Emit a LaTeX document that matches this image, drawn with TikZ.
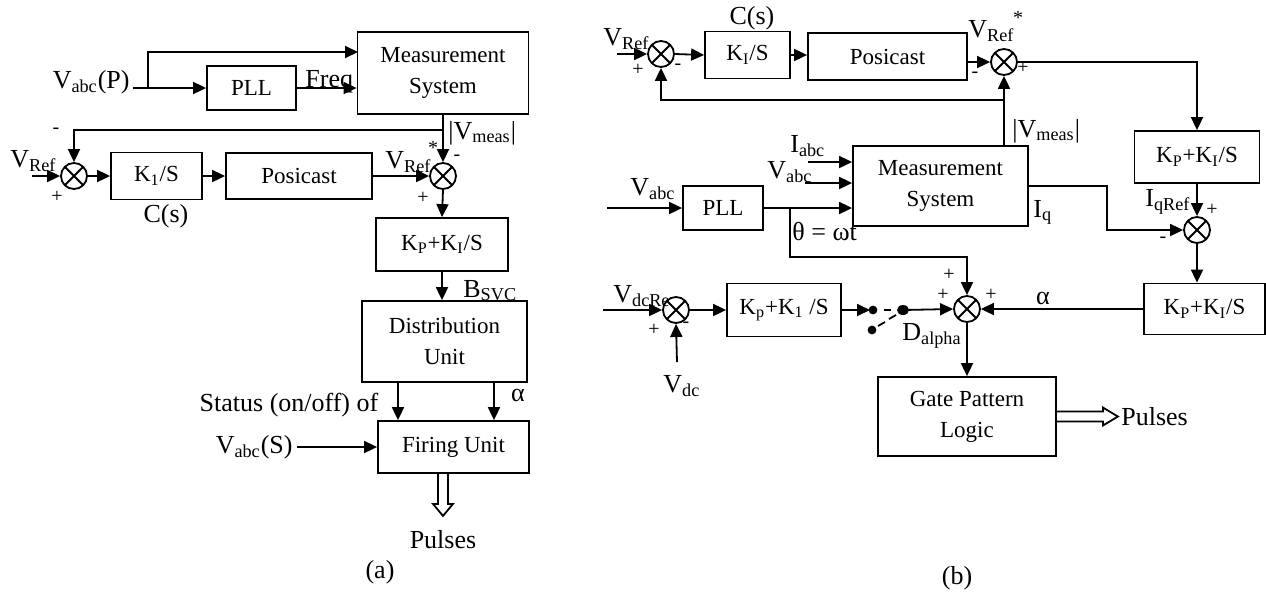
\documentclass[tikz,border=0pt]{standalone}
\usepackage{fontspec}
\setmainfont{Liberation Serif}
\usetikzlibrary{arrows.meta,calc}
\begin{document}
\begin{tikzpicture}[x=0.5pt,y=-0.5pt,
  blk/.style={draw,line width=0.9pt,inner sep=0pt,align=center,font=\fontsize{11.5}{15.5}\selectfont},
  sumj/.style={draw,circle,line width=0.9pt,minimum size=13pt,inner sep=0pt,
    path picture={\draw[line width=0.9pt] (path picture bounding box.north west) -- (path picture bounding box.south east)
      (path picture bounding box.north east) -- (path picture bounding box.south west);}},
  sig/.style={line width=0.9pt,-{Triangle[length=6.5pt,width=6pt]}},
  wire/.style={line width=0.9pt},
  lbl/.style={font=\fontsize{13}{15}\selectfont,inner sep=0pt},
  sgn/.style={font=\fontsize{10}{12}\selectfont,inner sep=0pt}]
\useasboundingbox (0,0) rectangle (1266,591);

% ---------- (a) ----------
\node[blk,minimum width=44.5pt,minimum height=22pt] (pllA) at (251.5,88) {PLL};
\node[blk,minimum width=85.5pt,minimum height=41pt] (measA) at (443,73) {Measurement\\System};
\node[blk,minimum width=45.5pt,minimum height=23.5pt] (kiA) at (156.5,176) {K\textsubscript{1}/S};
\node[blk,minimum width=73pt,minimum height=23pt] (posA) at (299,176) {Posicast};
\node[blk,minimum width=66pt,minimum height=26.5pt] (kpA) at (442,244.5) {K\textsubscript{P}+K\textsubscript{I}/S};
\node[blk,minimum width=82.5pt,minimum height=40.5pt] (distA) at (444.5,341.5) {Distribution\\Unit};
\node[blk,minimum width=75.5pt,minimum height=26pt] (fireA) at (453.5,447) {Firing Unit};
\node[sumj] (sum1A) at (74,176) {};
\node[sumj] (sum2A) at (443,176) {};

\coordinate (inA) at (133,88);
\coordinate (brA) at (148,88);
\coordinate (mA1) at (358,52);
\coordinate (fbA) at (443,130);
\coordinate (vrefA) at (32,176);
\coordinate (stA) at (398,0);
\coordinate (alA) at (494,0);
\coordinate (pulA) at (443,0);

\draw[sig] (inA) -- (pllA.west);
\draw[sig] (brA) |- (mA1);
\draw[sig] (pllA.east) -- (measA.west |- pllA.east);
\draw[sig] (measA.south) -- (sum2A.north);
\draw[sig] (fbA) -| (sum1A.north);
\draw[sig] (vrefA) -- (sum1A.west);
\draw[sig] (sum1A.east) -- (kiA.west);
\draw[sig] (kiA.east) -- (posA.west);
\draw[sig] (posA.east) -- (sum2A.west);
\draw[sig] (sum2A.south) -- (kpA.north);
\draw[sig] (kpA.south) -- (distA.north -| kpA.south);
\draw[sig] (distA.south -| stA) -- (fireA.north -| stA);
\draw[sig] (distA.south -| alA) -- (fireA.north -| alA);
\draw[wire] (fireA.south -| pulA) ++(-5,0) -- ++(0,30) -- ++(-5,0) -- ++(10,12) -- ++(10,-12) -- ++(-5,0) -- ++(0,-30);

\node[lbl,anchor=base east] (vabcP) at (130,88) {V\textsubscript{abc}(P)};
\node[lbl,anchor=base west] (freqA) at (305,87) {Freq};
\node[sgn] (mnA1) at (56,131) {-};
\node[lbl,anchor=base west] (vrefAl) at (10,167) {V\textsubscript{Ref}};
\node[sgn] (plA1) at (57,197) {+};
\node[lbl] (csA) at (166,216) {C(s)};
\node[lbl,anchor=base west] (vrefsA) at (385,168) {V\textsubscript{Ref}};
\node[sgn] (starA) at (433,148) {*};
\node[sgn] (mnA2) at (457,158) {-};
\node[sgn] (plA2) at (423,198) {+};
\node[lbl,anchor=base west] (vmeasA) at (448,139) {|V\textsubscript{meas}|};
\node[lbl,anchor=base west] (bsvcA) at (463,297) {B\textsubscript{SVC}};
\node[lbl] (alphaA) at (518,395) {α};
\node[lbl] (statA) at (289,405) {Status (on/off) of};
\node[lbl,anchor=east] (vabcS) at (293,447) {V\textsubscript{abc}(S)};
\draw[sig,shorten <=2pt] (vabcS.east) -- (fireA.west);
\node[lbl] (pulsA) at (443,540) {Pulses};
\node[lbl] (capA) at (380,572) {(a)};

% ---------- (b) ----------
\node[blk,minimum width=42.5pt,minimum height=23.5pt] (kiB) at (747.5,55) {K\textsubscript{I}/S};
\node[blk,minimum width=79.5pt,minimum height=23.5pt] (posB) at (887.5,56.5) {Posicast};
\node[blk,minimum width=87.5pt,minimum height=40pt] (measB) at (940.5,186) {Measurement\\System};
\node[blk,minimum width=40pt,minimum height=22pt] (pllB) at (723,208) {PLL};
\node[blk,minimum width=62.5pt,minimum height=26pt] (kp1B) at (1197,157) {K\textsubscript{P}+K\textsubscript{I}/S};
\node[blk,minimum width=60.5pt,minimum height=25.5pt] (kp2B) at (1204.5,309) {K\textsubscript{P}+K\textsubscript{I}/S};
\node[blk,minimum width=57pt,minimum height=26.5pt] (kdcB) at (784,310) {K\textsubscript{p}+K\textsubscript{1} /S};
\node[blk,minimum width=89pt,minimum height=39.5pt] (gateB) at (967,416.5) {Gate Pattern\\Logic};
\node[sumj] (s1B) at (661,54) {};
\node[sumj] (s2B) at (1004,62) {};
\node[sumj] (s3B) at (1197,230) {};
\node[sumj] (s4B) at (967,309) {};
\node[sumj] (s5B) at (676,310) {};

\coordinate (vrefB) at (617,54);
\coordinate (fbB) at (1004,100);
\coordinate (iqB) at (1107,230);
\coordinate (vabcB) at (607,208);
\coordinate (thB) at (790,208);
\coordinate (thB2) at (790,257);
\coordinate (iabcB) at (808,162);
\coordinate (vabcB2) at (805,183);
\coordinate (vdcrB) at (603,310);
\coordinate (vdcB) at (677,362);
\coordinate (swL) at (873,310);
\coordinate (swR) at (903,310);
\coordinate (swD) at (872,330);

\draw[sig] (vrefB) -- (s1B.west);
\draw[sig] (s1B.east) -- (kiB.west);
\draw[sig] (kiB.east) -- (posB.west |- kiB.east);
\draw[sig] (posB.east |- s2B.west) -- (s2B.west);
\draw[sig] (measB.north -| s2B) -- (s2B.south);
\draw[sig] (fbB) -| (s1B.south);
\draw[sig] (s2B.east) -| (kp1B.north);
\draw[sig] (kp1B.south) -- (s3B.north);
\draw[sig] (measB.east) -| (iqB) -- (s3B.west);
\draw[sig] (s3B.south) -- (s3B.south |- kp2B.north);
\draw[sig] (kp2B.west) -- (s4B.east);
\draw[sig] (vabcB) -- (pllB.west);
\draw[sig] (pllB.east) -- (measB.west |- pllB.east);
\draw[sig] (thB) -- (thB2) -| (s4B.north);
\draw[sig] (iabcB) -- (measB.west |- iabcB);
\draw[sig] (vabcB2) -- (measB.west |- vabcB2);
\draw[sig] (vdcrB) -- (s5B.west);
\draw[sig] (vdcB) -- (s5B.south);
\draw[sig] (s5B.east) -- (kdcB.west);
\draw[sig,shorten >=1.5pt] (kdcB.east) -- (swL);
\fill (swL) circle (2.2pt);
\fill (swR) ellipse (3pt and 2.5pt);
\fill (swD) circle (2.2pt);
\draw[wire] (884,310) -- (891,310);
\draw[wire] (878,326) -- (885,322) (889,319) -- (896,315);
\draw[sig] (swR) -- (s4B.west);
\draw[sig] (s4B.south) -- (gateB.north);
\draw[wire] (gateB.east) ++(0,-5) -- ++(46,0) -- ++(0,-4) -- ++(15,9) -- ++(-15,9) -- ++(0,-4) -- ++(-46,0);

\node[lbl] (csB) at (752,18) {C(s)};
\node[lbl,anchor=base west] (vrefBl) at (603,45) {V\textsubscript{Ref}};
\node[sgn] (plB1) at (638,70) {+};
\node[sgn] (mnB1) at (678,67) {-};
\node[lbl,anchor=base west] (vrefsB) at (968,37) {V\textsubscript{Ref}};
\node[sgn] (starB) at (1018,18) {*};
\node[sgn] (mnB2) at (975,75) {-};
\node[sgn] (plB2) at (1023,68) {+};
\node[lbl,anchor=base west] (vmeasB) at (1012,137) {|V\textsubscript{meas}|};
\node[lbl,anchor=base west] (iqrefB) at (1145,206) {I\textsubscript{qRef}};
\node[sgn] (plB3) at (1212,210) {+};
\node[lbl,anchor=base west] (iqBl) at (1033,217) {I\textsubscript{q}};
\node[sgn] (mnB3) at (1163,240) {-};
\node[lbl] (alphaB) at (1043,298) {α};
\node[sgn] (plB4) at (949,275) {+};
\node[sgn] (plB5) at (943,295) {+};
\node[sgn] (plB6) at (991,295) {+};
\node[lbl,anchor=base west] (thetaB) at (792,240) {θ = ωt};
\node[lbl,anchor=base west] (vabcBl) at (630,195) {V\textsubscript{abc}};
\node[lbl,anchor=base west] (iabcBl) at (790,152) {I\textsubscript{abc}};
\node[lbl,anchor=base west] (vabcBl2) at (767,178) {V\textsubscript{abc}};
\node[lbl,anchor=base west] (vdcrBl) at (613,302) {V\textsubscript{dcRe}};
\node[sgn] (plB7) at (654,330) {+};
\node[sgn] (mnB4) at (686,325) {-};
\node[lbl,anchor=base west] (vdcBl) at (663,392) {V\textsubscript{dc}};
\node[lbl,anchor=base west] (dalB) at (902,340) {D\textsubscript{alpha}};
\node[lbl,anchor=west] (pulsB) at (1121,417) {Pulses};
\node[lbl] (capB) at (957,578) {(b)};
\end{tikzpicture}
\end{document}
